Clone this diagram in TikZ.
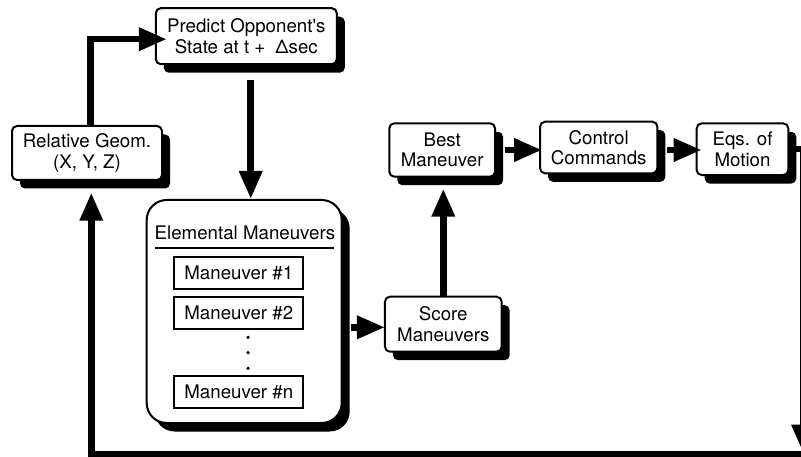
\documentclass[tikz,border=0pt]{standalone}
\usepackage{fontspec}
\setmainfont{TeX Gyre Heros}[Ligatures=TeXOff]
\usetikzlibrary{arrows.meta,shadows,calc}
\newcommand\diagfont{\fontsize{18.7}{20.5}\selectfont}
\begin{document}
\begin{tikzpicture}[x=1pt,y=-1pt,
  box/.style={draw, line width=2pt, fill=white, rounded corners=5pt, align=center, inner sep=0pt, font=\diagfont,
    drop shadow={shadow xshift=8pt, shadow yshift=-8.5pt, fill=black, opacity=1}},
  mbox/.style={draw, line width=2pt, fill=white, inner sep=0pt, minimum width=129pt, minimum height=32pt, font=\diagfont},
  arr/.style={line width=6.5pt, -{Triangle[length=28pt,width=22pt]}}]
\clip (0,0) rectangle (801,457);
\fill[white] (0,0) rectangle (801,457);
% nodes
\node[box, minimum width=181pt, minimum height=56pt] (pred) at (246.3,36.2) {Predict Opponent's\\State at t +\hspace{10pt}Δsec};
\node[box, minimum width=150pt, minimum height=54pt] (rel) at (87,153) {Relative Geom.\\(X, Y, Z)};
\node[box, rounded corners=20pt, minimum width=195pt, minimum height=223pt] (elem) at (244.2,311.5) {};
\node[font=\diagfont, anchor=base, inner sep=0pt] (etitle) at (245,240) {Elemental Maneuvers};
\draw[line width=2pt] (155,248.3) -- (334,248.3);
\node[mbox] (m1) at (238.8,272.8) {Maneuver \#1};
\node[mbox] (m2) at (238.8,312.8) {Maneuver \#2};
\node[mbox] (mn) at (238.8,391.5) {Maneuver \#n};
\fill (248,337.3) circle (1.8);
\fill (248,352.7) circle (1.8);
\fill (248,368.3) circle (1.8);
\node[box, minimum width=116.7pt, minimum height=55pt] (score) at (443.3,324.2) {Score\\Maneuvers};
\node[box, minimum width=105.7pt, minimum height=53.4pt] (best) at (442.2,150) {Best\\Maneuver};
\node[box, minimum width=117.3pt, minimum height=51.6pt] (ctrl) at (598.7,147.5) {Control\\Commands};
\node[box, minimum width=91.6pt, minimum height=51.7pt] (eqs) at (742.5,149.2) {Eqs. of\\Motion};
% connectors
\coordinate (p1) at ($(rel.north)+(3.7,0)$);
\coordinate (p1e) at ($(pred.west)+(12,3)$);
\draw[arr] (p1) |- (p1e);
\coordinate (p2) at ($(pred.south)+(4.4,15)$);
\draw[arr] (p2) -- (p2 |- elem.north);
\coordinate (p3) at ($(elem.east)+(8,15.8)$);
\draw[arr] (p3) -- ($(p3 -| score.west)+(1,0)$);
\coordinate (p4) at ($(score.north |- best.south)+(0,11)$);
\draw[arr] (score.north) -- (p4);
\coordinate (p5) at ($(best.east)+(9,0)$);
\draw[arr] (p5) -- ($(p5 -| ctrl.west)+(3,0)$);
\coordinate (p6) at ($(ctrl.east)+(9,2.5)$);
\draw[arr] (p6) -- ($(p6 -| eqs.west)+(6,0)$);
\coordinate (r1) at (803,452.5);
\draw[arr] (eqs.east) -| (r1);
\coordinate (b1) at (812,454);
\draw[arr] (b1) -| ($(rel.south)+(4.3,11.7)$);
\end{tikzpicture}
\end{document}
